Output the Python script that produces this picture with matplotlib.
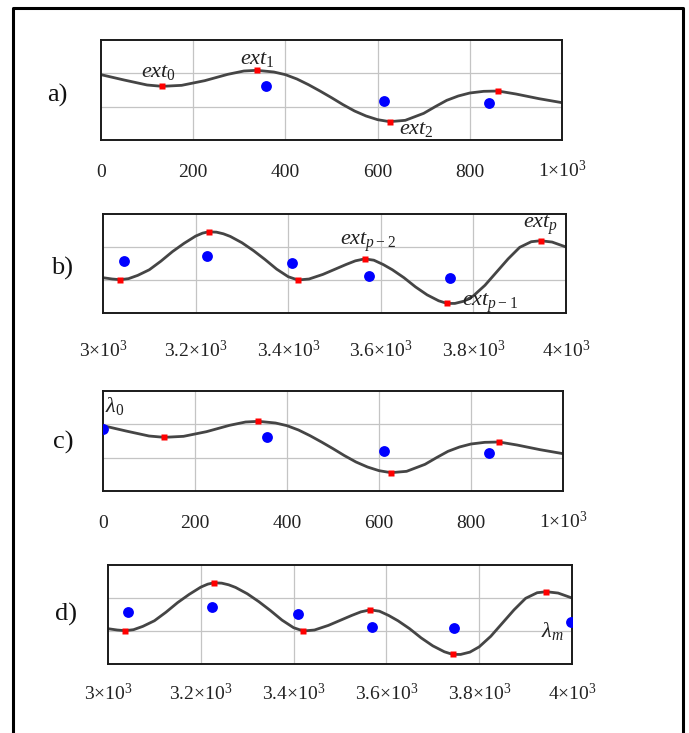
import matplotlib
matplotlib.use("Agg")
import matplotlib.pyplot as plt
from matplotlib.lines import Line2D

plt.rcParams['font.family'] = ['Liberation Serif', 'DejaVu Serif']
plt.rcParams['mathtext.fontset'] = 'custom'
plt.rcParams['mathtext.rm'] = 'Liberation Serif'
plt.rcParams['mathtext.it'] = 'Liberation Serif:italic'
plt.rcParams['mathtext.bf'] = 'Liberation Serif:bold'

# curve for panels a) and c)  (x from 0 to 1000)
curve_x_ac = [0, 50, 100, 133, 175, 225, 275, 310, 338, 375, 400, 425, 450, 475,
              500, 525, 550, 575, 600, 626, 660, 700, 725, 750, 775, 800, 830,
              861, 900, 950, 1000]
curve_y_ac = [1.96, 1.80, 1.65, 1.61, 1.64, 1.78, 1.97, 2.07, 2.09, 2.04, 1.96,
              1.83, 1.66, 1.47, 1.27, 1.06, 0.87, 0.72, 0.61, 0.55, 0.59, 0.80,
              1.00, 1.19, 1.32, 1.41, 1.46, 1.47, 1.38, 1.24, 1.12]
ext_x_ac = [133, 338, 626, 861]
ext_y_ac = [1.61, 2.09, 0.55, 1.47]

# curve for panels b) and d)  (x from 3000 to 4000)
curve_x_bd = [3000, 3020, 3037, 3055, 3075, 3100, 3125, 3150, 3175, 3200, 3215,
              3228, 3245, 3260, 3275, 3300, 3325, 3350, 3375, 3400, 3421, 3445,
              3475, 3500, 3525, 3545, 3565, 3585, 3605, 3625, 3650, 3675, 3700,
              3725, 3743, 3760, 3780, 3800, 3825, 3850, 3875, 3900, 3925, 3945,
              3970, 4000]
curve_y_bd = [1.07, 1.03, 1.01, 1.04, 1.14, 1.31, 1.57, 1.86, 2.11, 2.33, 2.42,
              2.46, 2.45, 2.40, 2.32, 2.13, 1.89, 1.62, 1.33, 1.10, 1.00, 1.03,
              1.17, 1.32, 1.47, 1.58, 1.64, 1.60, 1.47, 1.31, 1.07, 0.79, 0.55,
              0.37, 0.29, 0.29, 0.36, 0.52, 0.84, 1.24, 1.64, 1.99, 2.16, 2.19,
              2.15, 2.00]
ext_x_bd = [3037, 3228, 3421, 3565, 3743, 3945]
ext_y_bd = [1.01, 2.46, 1.00, 1.64, 0.29, 2.19]

# blue points
blue_x_a = [357, 613, 842]
blue_y_a = [1.61, 1.17, 1.10]
blue_x_b = [3045, 3225, 3409, 3574, 3749]
blue_y_b = [1.57, 1.72, 1.52, 1.11, 1.06]
blue_x_c = [0, 357, 610, 839]
blue_y_c = [1.85, 1.63, 1.19, 1.14]
blue_x_d = [3043, 3225, 3409, 3570, 3745, 3998]
blue_y_d = [1.58, 1.73, 1.53, 1.12, 1.08, 1.26]

ticks_ac = [0, 200, 400, 600, 800, 1000]
labels_ac = ["0", "200", "400", "600", "800", "1×10$^3$"]
ticks_bd = [3000, 3200, 3400, 3600, 3800, 4000]
labels_bd = ["3×10$^3$", "3.2×10$^3$", "3.4×10$^3$", "3.6×10$^3$",
             "3.8×10$^3$", "4×10$^3$"]

W, H = 689, 733
fig = plt.figure(figsize=(W / 100, H / 100), dpi=100)

# outer frame, in pixels from the top-left (bottom edge is off the picture)
frame_x = [12.5, 12.5, 683, 683]
frame_y = [H + 10, 7.5, 7.5, H + 10]
fig.add_artist(Line2D([x / W for x in frame_x], [1 - y / H for y in frame_y],
                      transform=fig.transFigure, color='black', lw=2.2))


def panel(box, xlim, cx, cy, ex, ey, bx, by, ticks, labels, letter, lpos, lab_off):
    left, top, right, bottom = box
    ax = fig.add_axes([left / W, 1 - bottom / H, (right - left) / W, (bottom - top) / H])
    ax.set_xlim(*xlim)
    ax.set_ylim(0, 3)
    ax.set_xticks(ticks[1:-1])
    ax.set_yticks([1, 2])
    ax.tick_params(length=0, labelbottom=False, labelleft=False)
    ax.grid(True, color='#c4c4c4', lw=0.9)
    ax.set_axisbelow(True)
    for s in ax.spines.values():
        s.set_linewidth(1.4)
        s.set_color('#1a1a1a')
    ax.plot(cx, cy, color='#454545', lw=2.0, zorder=2)
    ax.plot(bx, by, 'o', color='#0000ff', ms=7.8, mec='none', zorder=3)
    ax.plot(ex, ey, 's', color='#ff0000', ms=4.6, mec='none', zorder=4)
    for t, lab in zip(ticks, labels):
        ax.annotate(lab, xy=(t, 0), xycoords=('data', 'axes fraction'),
                    xytext=(0, -lab_off), textcoords='offset pixels',
                    ha='center', va='baseline', fontsize=14, color='#222222',
                    annotation_clip=False)
    fig.text(lpos[0] / W, 1 - lpos[1] / H, letter, fontsize=19,
             ha='center', va='center', color='#111111')
    return ax


ax_a = panel((101, 40, 562, 140), (0, 1000), curve_x_ac, curve_y_ac,
             ext_x_ac, ext_y_ac, blue_x_a, blue_y_a, ticks_ac, labels_ac,
             "a)", (57, 95), 37)
ax_b = panel((103, 214, 566, 313), (3000, 4000), curve_x_bd, curve_y_bd,
             ext_x_bd, ext_y_bd, blue_x_b, blue_y_b, ticks_bd, labels_bd,
             "b)", (62, 268), 44)
ax_c = panel((103, 391, 563, 491), (0, 1000), curve_x_ac, curve_y_ac,
             ext_x_ac, ext_y_ac, blue_x_c, blue_y_c, ticks_ac, labels_ac,
             "c)", (63, 442), 37)
ax_d = panel((108, 565, 572, 664), (3000, 4000), curve_x_bd, curve_y_bd,
             ext_x_bd, ext_y_bd, blue_x_d, blue_y_d, ticks_bd, labels_bd,
             "d)", (66, 614), 36)

note = dict(fontsize=16, color='#222222', va='baseline', ha='left', zorder=5)
ax_a.text(87, 1.89, "$ext_0$", **note)
ax_a.text(302, 2.28, "$ext_1$", **note)
ax_a.text(646, 0.18, "$ext_2$", clip_on=False, **note)
ax_b.text(3512, 2.06, "$ext_{p\u22122}$", **note)
ax_b.text(3775, 0.21, "$ext_{p\u22121}$", **note)
ax_b.text(3907, 2.58, "$ext_p$", **note)
ax_c.text(4, 2.37, r"$\lambda_0$", **note)
ax_d.text(3933, 0.82, r"$\lambda_m$", **note)

fig.savefig("out.png", dpi=100)
